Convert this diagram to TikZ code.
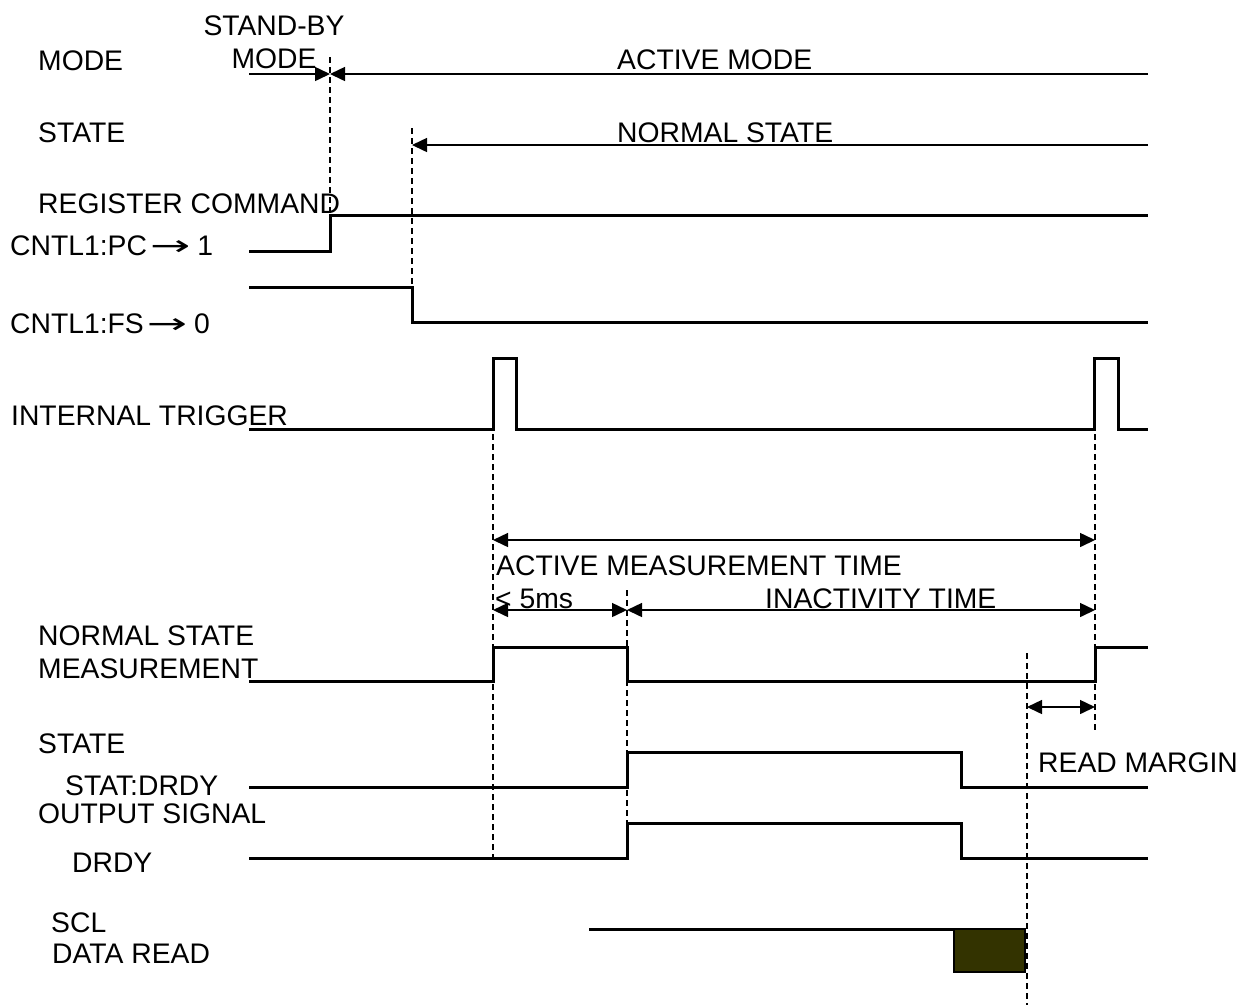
\documentclass[tikz,border=0pt]{standalone}
\usepackage{fontspec}
\usepackage{graphicx}
\setmainfont{Liberation Sans}
\newfontfamily\dejavu{DejaVu Sans}
\usetikzlibrary{arrows.meta}
\definecolor{olive}{HTML}{333300}
\newcommand{\myarrow}{\hspace{3pt}\scalebox{1.7}[1.0]{\dejavu →}\hspace{7pt}}
\begin{document}
\begin{tikzpicture}[x=1pt,y=-1pt,
  lbl/.style={anchor=base west,inner sep=0pt,font=\fontsize{28.3}{32}\selectfont},
  clbl/.style={anchor=base,inner sep=0pt,font=\fontsize{28.3}{32}\selectfont},
  sig/.style={line width=3pt,line join=miter},
  thinarr/.style={line width=1.5pt,-{Triangle[length=15pt,width=14pt]}},
  dblarr/.style={line width=1.5pt,{Triangle[length=15pt,width=14pt]}-{Triangle[length=15pt,width=14pt]}},
  guide/.style={line width=2pt,dash pattern=on 6pt off 4pt}]
\useasboundingbox (0,0) rectangle (1257,1005);
% labels
\node[lbl] (lmode) at (38,70) {MODE};
\node[clbl] (lsb1) at (274,35) {STAND-BY};
\node[clbl] (lsb2) at (274,68) {MODE};
\node[lbl] (lact) at (617,69) {ACTIVE MODE};
\node[lbl] (lstate) at (38,142) {STATE};
\node[lbl] (lnorm) at (617,142) {NORMAL STATE};
\node[lbl] (lreg) at (38,213) {REGISTER COMMAND};
\node[lbl] (lpc) at (10,255) {CNTL1:PC\myarrow 1};
\node[lbl] (lfs) at (10,333) {CNTL1:FS\myarrow 0};
\node[lbl] (ltrig) at (11,425) {INTERNAL TRIGGER};
\node[lbl] (lamt) at (496,575) {ACTIVE MEASUREMENT TIME};
\node[lbl] (l5ms) at (495,608) {< 5ms};
\node[lbl] (linact) at (765,608) {INACTIVITY TIME};
\node[lbl] (lnsm1) at (38,645) {NORMAL STATE};
\node[lbl] (lnsm2) at (38,678) {MEASUREMENT};
\node[lbl] (lst) at (38,753) {STATE};
\node[lbl] (lstat) at (65,795) {STAT:DRDY};
\node[lbl] (lrm) at (1038,772) {READ MARGIN};
\node[lbl] (lout) at (38,823) {OUTPUT SIGNAL};
\node[lbl] (ldrdy) at (72,872) {DRDY};
\node[lbl] (lscl) at (51,932) {SCL};
\node[lbl] (ldr) at (52,963) {DATA READ};
% guide lines
\draw[guide] (330,57) -- (330,215);
\draw[guide] (412,128) -- (412,287);
\draw[guide] (493,434) -- (493,860);
\draw[guide] (627,590) -- (627,858);
\draw[guide] (1095,434) -- (1095,732);
\draw[guide] (1027,653) -- (1027,1005);
% mode / state arrows
\coordinate (m0) at (249,74); \coordinate (mk) at (330,74); \coordinate (m1) at (1148,74);
\draw[thinarr] (m0) -- (mk);
\draw[thinarr] (m1) -- (mk);
\coordinate (s0) at (412,145); \coordinate (s1) at (1148,145);
\draw[thinarr] (s1) -- (s0);
% register signals
\draw[sig] (249,251) -- (330,251) -- (330,215) -- (1148,215);
\draw[sig] (249,287) -- (412,287) -- (412,322) -- (1148,322);
% internal trigger
\draw[sig] (249,429) -- (493,429) -- (493,358) -- (516,358) -- (516,429) -- (1094,429) -- (1094,358) -- (1118,358) -- (1118,429) -- (1148,429);
% timing arrows
\coordinate (a0) at (493,540); \coordinate (a1) at (1095,540);
\draw[dblarr] (a0) -- (a1);
\coordinate (b0) at (493,610); \coordinate (b1) at (627,610); \coordinate (b2) at (1095,610);
\draw[dblarr] (b0) -- (b1);
\draw[dblarr] (b1) -- (b2);
\coordinate (r0) at (1027,707); \coordinate (r1) at (1095,707);
\draw[dblarr] (r0) -- (r1);
% measurement
\draw[sig] (249,681) -- (493,681) -- (493,647) -- (627,647) -- (627,681) -- (1095,681) -- (1095,647) -- (1148,647);
% stat drdy
\draw[sig] (249,787) -- (627,787) -- (627,752) -- (961,752) -- (961,787) -- (1148,787);
% drdy
\draw[sig] (249,858) -- (627,858) -- (627,823) -- (961,823) -- (961,858) -- (1148,858);
% SCL
\draw[sig] (589,929) -- (954,929);
\draw[line width=2pt,fill=olive] (954,929) rectangle (1025,972);
\end{tikzpicture}
\end{document}
